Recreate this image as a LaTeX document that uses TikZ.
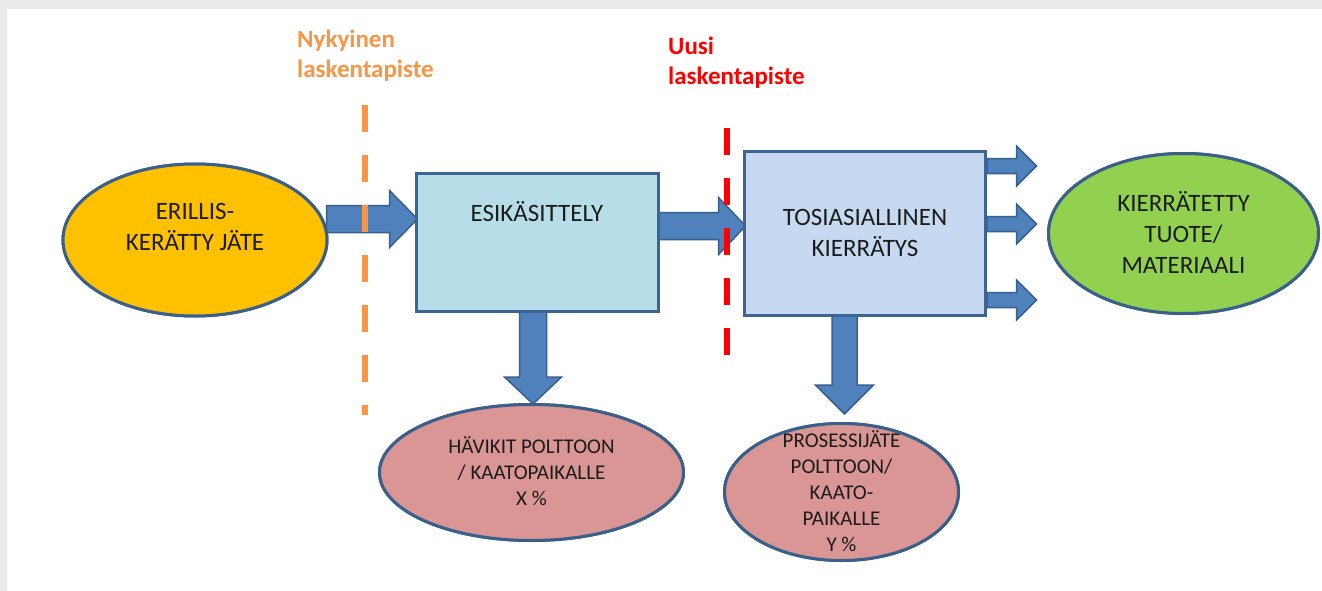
\documentclass[tikz,border=0pt]{standalone}
\usepackage{fontspec}
\setmainfont{Carlito}
\usetikzlibrary{shapes.geometric,calc}
\definecolor{bggray}{HTML}{EBEBEB}
\definecolor{yel}{HTML}{FFC000}
\definecolor{grn}{HTML}{92D050}
\definecolor{pnk}{HTML}{D99694}
\definecolor{boxa}{HTML}{B7DEE8}
\definecolor{boxb}{HTML}{C6D9F1}
\definecolor{elborder}{HTML}{3A5F8B}
\definecolor{bxborder}{HTML}{3C6494}
\definecolor{arrfill}{HTML}{4F81BD}
\definecolor{arrborder}{HTML}{385F8E}
\definecolor{orng}{HTML}{F79646}
\definecolor{redl}{HTML}{FF0000}
\definecolor{txt}{HTML}{1C1C1C}
\tikzset{
  ellbox/.style={ellipse, draw=elborder, line width=3pt, inner sep=0pt},
  procbox/.style={rectangle, draw=bxborder, line width=3pt, inner sep=0pt},
  maintext/.style={font=\fontsize{25}{31}\selectfont, text=txt, align=center},
  smalltext/.style={font=\fontsize{21}{26}\selectfont, text=txt, align=center},
  blockarrow/.style={fill=arrfill, draw=arrborder, line width=1.5pt, line join=miter},
  orangedash/.style={draw=orng, line width=6pt, dash pattern=on 27pt off 23pt},
  reddash/.style={draw=redl, line width=6pt, dash pattern=on 27pt off 23pt},
  lbl/.style={font=\fontsize{25}{30}\selectfont\bfseries, anchor=base west, inner sep=0pt}
}
% right block arrow: #1 start coord, #2 length, #3 shaft half width, #4 head half width, #5 head length
\newcommand{\rightblock}[5]{%
  \draw[blockarrow] (#1) ++(0,-#3) -- ++({#2-#5},0) -- ++(0,{#3-#4}) -- ++(#5,#4)
    -- ++(-#5,#4) -- ++(0,{#3-#4}) -- ++({#5-#2},0) -- cycle;}
% down block arrow
\newcommand{\downblock}[5]{%
  \draw[blockarrow] (#1) ++(-#3,0) -- ++(0,{#2-#5}) -- ++({#3-#4},0) -- ++(#4,#5)
    -- ++(#4,-#5) -- ++({#3-#4},0) -- ++(0,{#5-#2}) -- cycle;}
\begin{document}
\begin{tikzpicture}[x=1pt,y=-1pt]
\useasboundingbox (0,0) rectangle (1322,591);
\fill[white] (0,0) rectangle (1322,591);
\fill[bggray] (0,0) rectangle (1322,9);
\fill[bggray] (0,0) rectangle (7,591);

% shapes (positions)
\path
  (195,240) node[ellbox, minimum width=264pt, minimum height=152pt] (erill) {}
  (537.5,242.5) node[procbox, minimum width=242pt, minimum height=138pt] (esik) {}
  (865,233.5) node[procbox, minimum width=241pt, minimum height=164pt] (tosi) {}
  (1183.5,233.5) node[ellbox, minimum width=270pt, minimum height=160pt] (kierr) {}
  (531.5,472.5) node[ellbox, minimum width=304pt, minimum height=136pt] (havik) {}
  (841.5,492) node[ellbox, minimum width=234pt, minimum height=137pt] (prosj) {};

% arrow start coordinates
\coordinate (a1) at ($(erill.east)+(-2,-21)$);
\coordinate (a2) at ($(esik.east)+(-3,-16.5)$);
\coordinate (r1) at ($(tosi.east)+(0,-67.5)$);
\coordinate (r2) at ($(tosi.east)+(0,-9.5)$);
\coordinate (r3) at ($(tosi.east)+(0,66.5)$);
\coordinate (d1) at ($(esik.south)+(-4.5,-3)$);
\coordinate (d2) at ($(tosi.south)+(-20.5,-3)$);

% block arrows
\rightblock{a1}{91}{13.5}{28.5}{28}
\rightblock{a2}{88.5}{13.5}{28.5}{27}
\rightblock{r1}{49.5}{7.5}{20}{20}
\rightblock{r2}{49.5}{7.5}{20}{20}
\rightblock{r3}{49.5}{7.5}{20}{20}
\downblock{d1}{94}{13.5}{28.5}{27}
\downblock{d2}{100}{12.5}{29}{29}

% filled shapes on top of arrow ends
\node[ellbox, fill=yel, minimum width=264pt, minimum height=152pt] at (erill) {};
\node[procbox, fill=boxa, minimum width=242pt, minimum height=138pt] at (esik) {};
\node[procbox, fill=boxb, minimum width=241pt, minimum height=164pt] at (tosi) {};
\node[ellbox, fill=grn, minimum width=270pt, minimum height=160pt] at (kierr) {};
\node[ellbox, fill=pnk, minimum width=304pt, minimum height=136pt] at (havik) {};
\node[ellbox, fill=pnk, minimum width=234pt, minimum height=137pt] at (prosj) {};

% texts
\node[maintext] (erilltxt) at (195,227) {ERILLIS-\\KERÄTTY JÄTE};
\node[maintext] (esiktxt) at (537,212) {ESIKÄSITTELY};
\node[maintext] (tositxt) at (865,233) {TOSIASIALLINEN\\KIERRÄTYS};
\node[maintext] (kierrtxt) at (1183.5,232) {KIERRÄTETTY\\TUOTE/\\MATERIAALI};
\node[smalltext] (haviktxt) at (531.5,471.5) {HÄVIKIT POLTTOON\\/ KAATOPAIKALLE\\X \%};
\node[smalltext] (prosjtxt) at (841.5,491.5) {PROSESSIJÄTE\\POLTTOON/\\KAATO-\\PAIKALLE\\Y \%};

% calculation points
\draw[orangedash] (365,105) -- (365,415);
\draw[reddash] (727,128) -- (727,355);

\node[lbl, text=orng] (nyk1) at (297,48) {Nykyinen};
\node[lbl, text=orng] (nyk2) at (297,78) {laskentapiste};
\node[lbl, text=redl] (uusi1) at (668,55) {Uusi};
\node[lbl, text=redl] (uusi2) at (668,85) {laskentapiste};
\end{tikzpicture}
\end{document}
